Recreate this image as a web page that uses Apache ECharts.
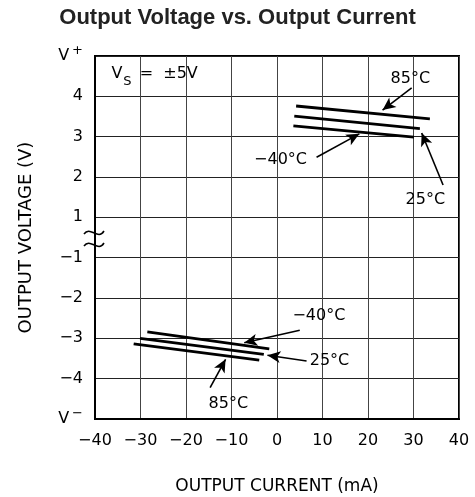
<!DOCTYPE html>
<html>
<head>
<meta charset="utf-8">
<script src="https://cdn.jsdelivr.net/npm/echarts@6/dist/echarts.min.js"></script>
<style>
  html, body { margin: 0; padding: 0; background: #fff; }
  #box { width: 475px; height: 497px; }
</style>
</head>
<body>
<div id="box"></div>
<script>
// x ticks (mA)
const xTicks = [-40, -30, -20, -10, 0, 10, 20, 30, 40];
// y axis with a break: slot 0..9, labels from bottom up
const yLabels = ['V-', '-4', '-3', '-2', '-1', '1', '2', '3', '4', 'V+'];

// curves, [current mA, voltage V]
const src85 = [[4.2, 3.76], [33.6, 3.44]];
const src25 = [[3.8, 3.51], [31.4, 3.20]];
const srcM40 = [[3.6, 3.27], [30.1, 2.99]];
const sink85 = [[-31.5, -3.14], [-3.9, -3.54]];
const sink25 = [[-30.1, -3.00], [-2.9, -3.40]];
const sinkM40 = [[-28.5, -2.84], [-1.7, -3.26]];

// annotation arrows: [from, to] in data units
const arrows = [
    [[29.6, 4.21], [23.2, 3.66]],
    [[36.5, 1.80], [31.8, 3.09]],
    [[8.7, 2.49], [18.1, 3.07]],
    [[5.0, -2.80], [-7.2, -3.11]],
    [[6.5, -3.56], [-2.1, -3.42]],
    [[-14.7, -4.22], [-11.3, -3.52]],
];
// labels: [x, y, text, align]
const notes = [
    [29.3, 4.43, '85°C', 'center'],
    [32.6, 1.43, '25°C', 'center'],
    [6.6, 2.43, '−40°C', 'right'],
    [9.2, -2.44, '−40°C', 'center'],
    [7.2, -3.56, '25°C', 'left'],
    [-10.7, -4.62, '85°C', 'center'],
];

// voltage -> slot on broken axis
function toSlot(v){
    return v > 0 ? v + 4 : v + 5;
}
function conv(arr){
    return arr.map(p => [p[0], toSlot(p[1])]);
}
function minus(s){
    return String(s).replace('-', '−');
}

const sFont = '"DejaVu Sans", sans-serif';
const myChart = echarts.init(document.getElementById('box'));

const series = [src85, src25, srcM40, sink85, sink25, sinkM40].map(d => ({
    type: 'line',
    data: conv(d),
    symbol: 'none',
    lineStyle: { color: '#000', width: 2.8 },
    silent: true,
}));

series.push({
    type: 'line',
    data: [],
    markLine: {
        silent: true,
        symbol: ['none', 'arrow'],
        symbolSize: [9, 13],
        label: { show: false },
        lineStyle: { color: '#000', width: 1.6, type: 'solid' },
        data: arrows.map(a => [
            { coord: [a[0][0], toSlot(a[0][1])] },
            { coord: [a[1][0], toSlot(a[1][1])] },
        ]),
    },
});

series.push({
    type: 'scatter',
    symbolSize: 0,
    silent: true,
    itemStyle: { opacity: 1, color: '#000' },
    data: notes.map(n => ({
        value: [n[0], toSlot(n[1])],
        label: {
            show: true,
            position: 'inside',
            formatter: n[2],
            align: n[3],
            verticalAlign: 'middle',
            color: '#000',
            textBorderWidth: 0,
            textBorderColor: 'transparent',
            fontFamily: sFont,
            fontSize: 16,
        },
    })),
});

// V_S label
series.push({
    type: 'scatter',
    symbolSize: 0,
    silent: true,
    itemStyle: { opacity: 1, color: '#000' },
    data: [{
        value: [-36.4, 8.55],
        label: {
            show: true,
            position: 'inside',
            align: 'left',
            verticalAlign: 'middle',
            textBorderWidth: 0,
            textBorderColor: 'transparent',
            formatter: '{a|V}{s|S}{a| =  ±5V}',
            rich: {
                a: { fontFamily: sFont, fontSize: 16, color: '#000', verticalAlign: 'bottom', textBorderWidth: 0 },
                s: { fontFamily: sFont, fontSize: 13, color: '#000', verticalAlign: 'bottom', textBorderWidth: 0, padding: [0, 3, -6, 1] },
            },
        },
    }],
});

const option = {
    animation: false,
    title: {
        text: 'Output Voltage vs. Output Current',
        left: 'center',
        top: 2,
        textStyle: { fontFamily: '"Liberation Sans", Arial, sans-serif', fontSize: 22, fontWeight: 'bold', color: '#222' },
    },
    grid: { left: 95, right: 16, top: 56, bottom: 78, outerBoundsMode: 'none', containLabel: false },
    xAxis: {
        type: 'value',
        min: -40, max: 40, interval: 10,
        name: 'OUTPUT CURRENT (mA)',
        nameLocation: 'middle',
        nameGap: 59,
        nameTextStyle: { fontFamily: sFont, fontSize: 17, color: '#000' },
        axisLine: { show: true, lineStyle: { color: '#000', width: 2 } },
        axisTick: { show: false },
        axisLabel: {
            fontFamily: sFont, fontSize: 16, color: '#000', margin: 14,
            formatter: v => xTicks.includes(v) ? minus(v) : '',
        },
        splitLine: { show: true, lineStyle: { color: '#444', width: 1 } },
    },
    yAxis: {
        type: 'value',
        min: 0, max: 9, interval: 1,
        name: 'OUTPUT VOLTAGE (V)',
        nameLocation: 'middle',
        nameGap: 60,
        nameTextStyle: { fontFamily: sFont, fontSize: 18, color: '#000' },
        axisLine: { show: true, onZero: false, lineStyle: { color: '#000', width: 2 } },
        axisTick: { show: false },
        axisLabel: {
            fontFamily: sFont, fontSize: 16, color: '#000', margin: 12,
            formatter: v => {
                const s = yLabels[v];
                if (s === 'V+') return '{a|V}{p|+}';
                if (s === 'V-') return '{a|V}{p|−}';
                return minus(s);
            },
            rich: {
                a: { fontFamily: sFont, fontSize: 16, color: '#000' },
                p: { fontFamily: sFont, fontSize: 13, color: '#000', padding: [0, 0, 10, 3] },
            },
        },
        splitLine: { show: true, lineStyle: { color: '#222', width: 1 } },
    },
    graphic: [
        { type: 'rect', shape: { x: 95, y: 56, width: 364, height: 363 }, style: { fill: 'none', stroke: '#000', lineWidth: 2 }, silent: true },
        { type: 'bezierCurve', shape: { x1: 84, y1: 234, cpx1: 90, cpy1: 225, cpx2: 98, cpy2: 241, x2: 104, y2: 231 }, style: { stroke: '#000', lineWidth: 1.5, fill: 'none' }, silent: true },
        { type: 'bezierCurve', shape: { x1: 84, y1: 246, cpx1: 90, cpy1: 237, cpx2: 98, cpy2: 253, x2: 104, y2: 243 }, style: { stroke: '#000', lineWidth: 1.5, fill: 'none' }, silent: true },
    ],
    series,
};
myChart.setOption(option);
</script>
</body>
</html>
